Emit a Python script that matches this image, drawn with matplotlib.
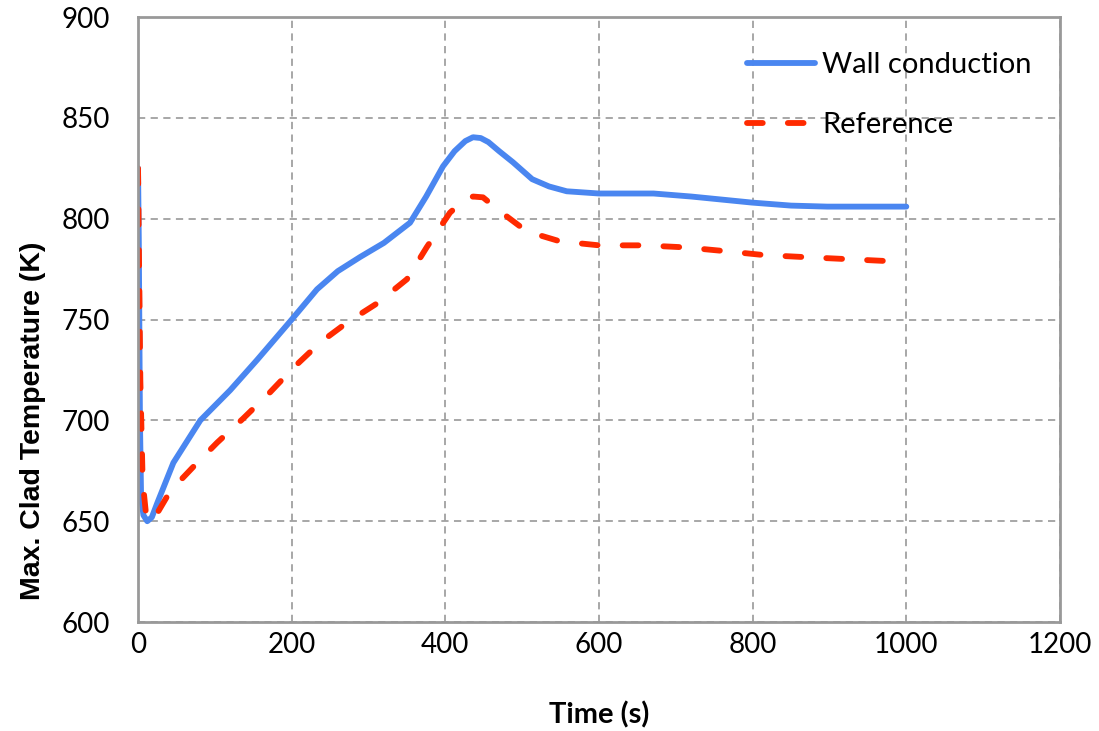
import matplotlib
matplotlib.use("Agg")
import matplotlib.pyplot as plt
from matplotlib.font_manager import FontProperties

# readings
wall_time = [0, 1, 2.5, 4, 7, 12, 18, 25, 46, 81, 120, 155, 200, 233, 260, 289,
             320, 354, 375, 397, 412, 426, 436, 446, 456, 470, 488, 513, 535,
             558, 600, 671, 720, 799, 850, 897, 1000]
wall_temp = [825, 790, 700, 662, 653, 650, 652, 659, 679, 700, 715, 730, 750,
             765, 774, 781, 788, 798, 811, 826, 833.5, 838.5, 840.4, 840, 838,
             833.5, 828, 819.6, 816, 813.6, 812.5, 812.5, 811, 808, 806.5, 806,
             806]

ref_time = [0, 1, 3, 6, 10, 15, 25, 42, 72, 103, 137, 172, 202, 237, 272, 311,
            350, 376, 406, 422, 436, 449, 471, 506, 549, 600, 658, 712, 762,
            814, 866, 921, 975, 1000]
ref_temp = [825, 790, 720, 670, 655, 650, 654, 665, 677, 689, 701, 714, 726,
            738.6, 748.5, 758, 770, 786, 803, 808.5, 811, 810.6, 803.7, 793.7,
            788.8, 786.8, 786.8, 785.8, 784, 782, 781, 780, 779, 778.5]

x_ticks = [0, 200, 400, 600, 800, 1000, 1200]
y_ticks = [600, 650, 700, 750, 800, 850, 900]

plt.rcParams["font.family"] = ["Lato", "DejaVu Sans"]

fig = plt.figure(figsize=(10.99, 7.31), dpi=100)
ax = fig.add_axes([0.1256, 0.149, 0.8389, 0.8277])

ax.plot(wall_time, wall_temp, color="#4a86f0", lw=4.2,
        solid_capstyle="round", solid_joinstyle="round", label="Wall conduction")
ax.plot(ref_time, ref_temp, color="#ff2a00", lw=4.2, linestyle=(0, (2.7, 4.3)),
        dash_capstyle="round", label="Reference")

ax.set_xlim(0, 1200)
ax.set_ylim(600, 900)
ax.set_xticks(x_ticks)
ax.set_yticks(y_ticks)
ax.tick_params(length=0, labelsize=20)
ax.tick_params(axis="x", pad=7)
ax.tick_params(axis="y", pad=20)
ax.grid(True, color="#a0a0a0", linestyle=(0, (4, 3)), lw=1.3)
for s in ax.spines.values():
    s.set_color("#999999")
    s.set_linewidth(2)

ax.set_xlabel("Time (s)", fontsize=21, fontweight="bold", labelpad=31)
ylab_font = FontProperties(family=["Liberation Sans", "DejaVu Sans"],
                           weight="bold", size=20.5)
ax.set_ylabel("Max. Clad Temperature (K)", fontproperties=ylab_font)
# excel put the y title a bit below the middle of the axis
ax.yaxis.set_label_coords(-0.100, 0.332)

ax.legend(loc="upper right", frameon=False, fontsize=21, handlelength=2.35,
          labelspacing=1.15, handletextpad=0.25, bbox_to_anchor=(0.998, 0.985))

fig.savefig("out.png", dpi=100)
